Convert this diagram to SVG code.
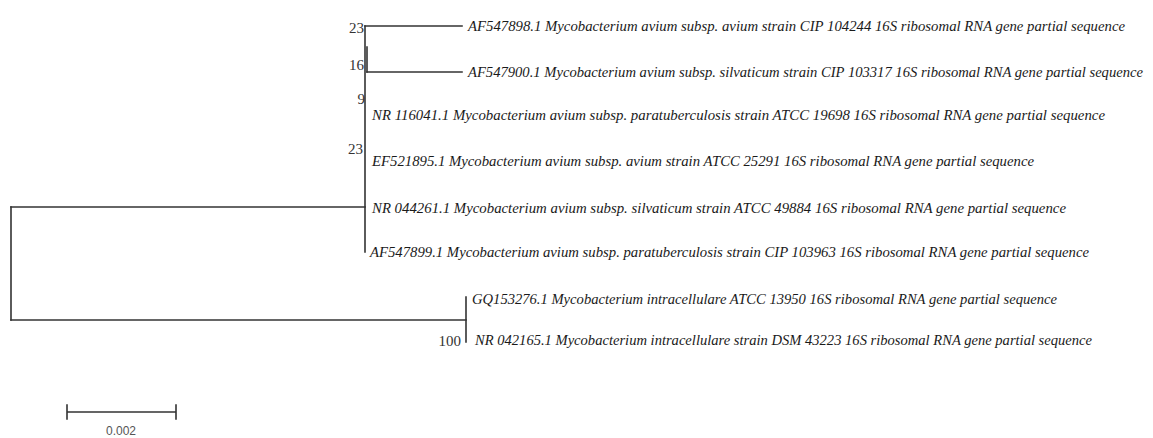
<svg xmlns="http://www.w3.org/2000/svg" width="1153" height="438" viewBox="0 0 1153 438">
<style>
.br{stroke:#333;stroke-width:1.6;fill:none;stroke-linecap:square}
.lab{font-family:"Liberation Serif","Times New Roman",serif;font-style:italic;font-size:15px;fill:#1a1a1a}
.bs{font-family:"Liberation Serif","Times New Roman",serif;font-size:15px;fill:#333}
.sc{font-family:"Liberation Sans",Arial,sans-serif;font-size:12px;fill:#555}
</style>
<rect width="1153" height="438" fill="#fff"/>
<g id="connectors">
<path class="br" d="M11,207 V320"/>
<path class="br" d="M11,207 H365"/>
<path class="br" d="M11,320 H466"/>
<path class="br" d="M466,297 V342"/>
<path class="br" d="M365,26 V252"/>
<path class="br" d="M367,47 V72"/>
<path class="br" d="M365,26 H462"/>
<path class="br" d="M367,72 H462"/>
</g>
<g id="n1"><text class="lab" x="468" y="31" textLength="657" lengthAdjust="spacingAndGlyphs">AF547898.1 Mycobacterium avium subsp. avium strain CIP 104244 16S ribosomal RNA gene partial sequence</text></g>
<g id="n2"><text class="lab" x="468" y="77" font-size="14.5" style="font-size:14.5px" textLength="675" lengthAdjust="spacingAndGlyphs">AF547900.1 Mycobacterium avium subsp. silvaticum strain CIP 103317 16S ribosomal RNA gene partial sequence</text></g>
<g id="n3"><text class="lab" x="372" y="120" textLength="733" lengthAdjust="spacingAndGlyphs">NR 116041.1 Mycobacterium avium subsp. paratuberculosis strain ATCC 19698 16S ribosomal RNA gene partial sequence</text></g>
<g id="n4"><text class="lab" x="372" y="166" textLength="662" lengthAdjust="spacingAndGlyphs">EF521895.1 Mycobacterium avium subsp. avium strain ATCC 25291 16S ribosomal RNA gene partial sequence</text></g>
<g id="n5"><text class="lab" x="372" y="213" textLength="694" lengthAdjust="spacingAndGlyphs">NR 044261.1 Mycobacterium avium subsp. silvaticum strain ATCC 49884 16S ribosomal RNA gene partial sequence</text></g>
<g id="n6"><text class="lab" x="370" y="257" textLength="719" lengthAdjust="spacingAndGlyphs">AF547899.1 Mycobacterium avium subsp. paratuberculosis strain CIP 103963 16S ribosomal RNA gene partial sequence</text></g>
<g id="n7"><text class="lab" x="472" y="304" textLength="585" lengthAdjust="spacingAndGlyphs">GQ153276.1 Mycobacterium intracellulare ATCC 13950 16S ribosomal RNA gene partial sequence</text></g>
<g id="n8"><text class="lab" x="475" y="345" textLength="617" lengthAdjust="spacingAndGlyphs">NR 042165.1 Mycobacterium intracellulare strain DSM 43223 16S ribosomal RNA gene partial sequence</text></g>
<g id="bootstrap">
<text class="bs" x="364" y="33" text-anchor="end">23</text>
<text class="bs" x="364" y="70" text-anchor="end">16</text>
<text class="bs" x="365" y="104" text-anchor="end">9</text>
<text class="bs" x="363" y="154" text-anchor="end">23</text>
<text class="bs" x="461" y="346" text-anchor="end">100</text>
</g>
<g id="scale">
<path class="br" d="M67,412 H176 M67,405 V419 M176,405 V419" stroke="#444"/>
<text class="sc" x="121" y="435" text-anchor="middle">0.002</text>
</g>
</svg>
